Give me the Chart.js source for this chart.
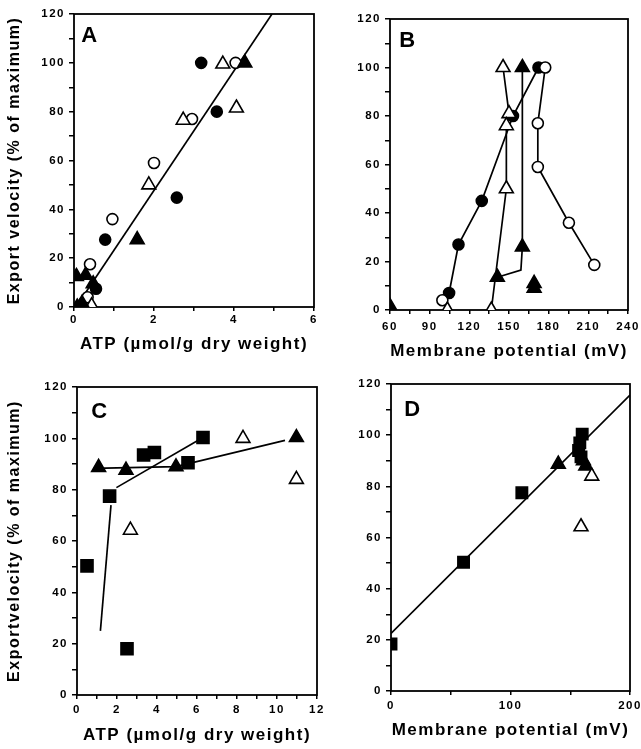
<!DOCTYPE html>
<html>
<head>
<meta charset="utf-8">
<script src="https://cdn.jsdelivr.net/npm/chart.js@4.4.0/dist/chart.umd.min.js"></script>
<style>
  body { margin: 0; background: #fff; }
  #wrap { position: relative; width: 641px; height: 749px; }
  #wrap canvas { position: absolute; left: 0; top: 0; }
</style>
</head>
<body>
<div id="wrap">
  <canvas id="chartA" width="641" height="749"></canvas>
  <canvas id="chartB" width="641" height="749"></canvas>
  <canvas id="chartC" width="641" height="749"></canvas>
  <canvas id="chartD" width="641" height="749"></canvas>
</div>
<script>
const FONT = "'Liberation Sans', Arial, sans-serif";

// ---- panel A : export velocity vs ATP ----
const atpA_filledCircles = [[0.55, 7.5], [0.78, 27.6], [2.57, 44.8], [3.18, 100], [3.57, 80]];
const atpA_openCircles = [[0.34, 4], [0.4, 17.5], [0.96, 36], [2.0, 59], [2.95, 77], [4.04, 100]];
const atpA_openTriangles = [[0.15, 0], [0.44, 0.5], [1.87, 50], [2.73, 76.5], [3.72, 99.5], [4.06, 81.5]];
const atpA_filledTriangles = [[0.06, 12.5], [0.29, 13], [0.2, 1.5], [0.48, 9.5], [0.08, 0], [1.58, 27.6], [4.27, 100]];
const atpA_fit = [[0.05, 0], [4.95, 120]];

// ---- panel B : export velocity vs membrane potential ----
const mpB_filledCircleTrace = [[104.7, 7], [111.8, 27], [129.4, 45], [153, 80], [172.3, 100]];
const mpB_openCircleTrace = [[177.4, 100], [171.8, 77], [171.8, 59], [195.3, 36], [214.5, 18.6]];
const mpB_openCircleLone = [[99.6, 4]];
const mpB_openTriTrace = [[145.5, 100], [150, 81], [148, 76], [148, 50], [136.6, 0]];
const mpB_openTriLone = [[103.4, 0]];
const mpB_filledTriTrace = [[141.2, 13.5], [159, 16.5], [160.1, 26], [160.1, 100]];
const mpB_filledTriLone = [[169, 11], [169, 9], [60, 1.5]];

// ---- panel C : export velocity vs ATP ----
const atpC_filledSquares = [[0.5, 50.3], [1.63, 77.5], [2.5, 18], [3.33, 93.5], [3.87, 94.5], [5.55, 90.5], [6.3, 100.3]];
const atpC_filledTriangles = [[1.08, 88.7], [2.45, 87.6], [4.95, 88.9], [10.97, 100.3]];
const atpC_openTriangles = [[2.67, 64.2], [8.3, 100], [10.97, 84]];
const atpC_fitSteep = [[1.17, 25], [1.7, 74]];
const atpC_fitSquares = [[1.97, 80.8], [6.3, 100.3]];
const atpC_fitTriangles = [[0.83, 88.3], [4.95, 89], [10.4, 99.2]];

// ---- panel D : export velocity vs membrane potential ----
const mpD_filledSquares = [[0, 18.4], [60.7, 50.3], [109.5, 77.5], [160, 100.4], [158, 97], [157, 94], [159, 91.5]];
const mpD_filledTriangles = [[140, 88.7], [161, 90], [163, 88]];
const mpD_openTriangles = [[168, 84], [159, 64.2]];
const mpD_fit = [[0, 22.5], [200, 115.7]];

// ---- ticks ----
const yTicks = [0, 10, 20, 30, 40, 50, 60, 70, 80, 90, 100, 110, 120];
const yLabels = [0, 20, 40, 60, 80, 100, 120];
const xTicksA = [0, 1, 2, 3, 4, 5, 6];
const xLabelsA = [0, 2, 4, 6];
const xTicksB = [60, 75, 90, 105, 120, 135, 150, 165, 180, 195, 210, 225, 240];
const xLabelsB = [60, 90, 120, 150, 180, 210, 240];
const xTicksC = [0, 1, 2, 3, 4, 5, 6, 7, 8, 9, 10, 11, 12];
const xLabelsC = [0, 2, 4, 6, 8, 10, 12];
const xTicksD = [0, 50, 100, 150, 200];
const xLabelsD = [0, 100, 200];

const titleVelocityTop = 'Export velocity (% of maximum)';
const titleVelocityBottom = 'Exportvelocity (% of maximum)';
const titleATP = 'ATP (\u00b5mol/g dry weight)';
const titleMP = 'Membrane potential (mV)';

const pts = arr => arr.map(([x, y]) => ({ x, y }));

function marks(data, shape, filled, radius) {
    return {
        data: pts(data),
        showLine: false,
        pointStyle: shape,
        pointRadius: radius,
        pointBackgroundColor: filled ? '#000' : '#fff',
        pointBorderColor: '#000',
        pointBorderWidth: 1.6
    };
}

function trace(data, shape, filled, radius) {
    const ds = marks(data, shape, filled, radius);
    ds.showLine = true;
    ds.borderColor = '#000';
    ds.borderWidth = 1.7;
    return ds;
}

function fit(data) {
    return { data: pts(data), showLine: true, pointRadius: 0, borderColor: '#000', borderWidth: 1.7 };
}

const panelFrame = {
    id: 'panelFrame',
    beforeDraw(chart) {
        chart.ctx.letterSpacing = '1.5px';
    },
    beforeDatasetsDraw(chart) {
        const { ctx, chartArea: a } = chart;
        ctx.save();
        ctx.strokeStyle = '#000';
        ctx.lineWidth = 1.8;
        ctx.strokeRect(a.left, a.top, a.right - a.left, a.bottom - a.top);
        ctx.restore();
    },
    afterDraw(chart, args, opts) {
        const { ctx, chartArea: a } = chart;
        ctx.save();
        ctx.font = 'bold 22px ' + FONT;
        ctx.fillStyle = '#000';
        ctx.textAlign = 'center';
        ctx.textBaseline = 'middle';
        ctx.fillText(opts.letter, a.left + opts.dx, a.top + opts.dy);
        ctx.restore();
    }
};

function axis(min, max, tickVals, labelVals, extra) {
    return Object.assign({
        type: 'linear',
        min: min,
        max: max,
        border: { display: false },
        grid: { drawOnChartArea: false, drawTicks: true, tickLength: 5, color: '#000', lineWidth: 1.5 },
        afterBuildTicks: s => { s.ticks = tickVals.map(v => ({ value: v })); },
        ticks: {
            autoSkip: false,
            maxRotation: 0,
            padding: 4,
            color: '#000',
            font: { family: FONT, size: 11.5, weight: 'bold' },
            callback: v => labelVals.includes(v) ? String(v) : ''
        }
    }, extra);
}

// box: chart area in page pixels, yTitleX / xTitleY: title centres
function panel(id, box, xr, datasets) {
    const yLH = 16 * 1.2, xLH = 17 * 1.2;
    const left0 = box.yTitle ? box.yTitleX - yLH / 2 : box.l - 50;
    const scaleBottom = box.xTitleY + xLH / 2;
    const W = box.l - left0;
    const H = scaleBottom - box.b;

    const xAxis = axis(xr.min, xr.max, xr.ticks, xr.labels, {
        position: 'bottom',
        title: { display: true, text: box.xTitle, color: '#000', padding: 0, font: { family: FONT, size: 17, weight: 'bold' } },
        afterFit: s => { s.height = H; s.paddingLeft = 0; s.paddingRight = 0; }
    });
    xAxis.grid.tickLength = 4;
    xAxis.ticks.padding = box.xPad;

    const yAxis = axis(0, 120, yTicks, yLabels, {
        position: 'left',
        title: { display: !!box.yTitle, text: box.yTitle || '', color: '#000', padding: 0, font: { family: FONT, size: 16, weight: 'bold' } },
        afterFit: s => { s.width = W; s.paddingTop = 0; s.paddingBottom = 0; }
    });

    return new Chart(document.getElementById(id), {
        type: 'scatter',
        data: { datasets: datasets },
        options: {
            responsive: false,
            animation: false,
            events: [],
            layout: { padding: { left: left0, top: box.t, right: 641 - box.r, bottom: 749 - scaleBottom } },
            plugins: {
                legend: { display: false },
                tooltip: { enabled: false },
                panelFrame: { letter: box.letter, dx: box.dx, dy: box.dy }
            },
            scales: { x: xAxis, y: yAxis }
        },
        plugins: [panelFrame]
    });
}

panel('chartA',
    { l: 74, t: 14, r: 314, b: 307, yTitle: titleVelocityTop, yTitleX: 15, xTitle: titleATP, xTitleY: 344, xPad: 2, letter: 'A', dx: 16, dy: 22 },
    { min: 0, max: 6, ticks: xTicksA, labels: xLabelsA },
    [
        marks(atpA_filledTriangles, 'triangle', true, 8),
        marks(atpA_openTriangles, 'triangle', false, 8),
        marks(atpA_filledCircles, 'circle', true, 5.5),
        marks(atpA_openCircles, 'circle', false, 5.5),
        fit(atpA_fit)
    ]);

panel('chartB',
    { l: 390, t: 19, r: 628, b: 310, xTitle: titleMP, xTitleY: 351, xPad: 6, letter: 'B', dx: 18, dy: 22 },
    { min: 60, max: 240, ticks: xTicksB, labels: xLabelsB },
    [
        marks(mpB_filledTriLone, 'triangle', true, 8),
        marks(mpB_openTriLone, 'triangle', false, 8),
        marks(mpB_openCircleLone, 'circle', false, 5.5),
        Object.assign(trace(mpB_filledTriTrace, 'triangle', true, 8), { pointRadius: [8, 0, 8, 8] }),
        trace(mpB_openTriTrace, 'triangle', false, 8),
        trace(mpB_openCircleTrace, 'circle', false, 5.5),
        trace(mpB_filledCircleTrace, 'circle', true, 5.5)
    ]);

panel('chartC',
    { l: 77, t: 387, r: 317, b: 695, yTitle: titleVelocityBottom, yTitleX: 15, xTitle: titleATP, xTitleY: 735, xPad: 4, letter: 'C', dx: 23, dy: 25 },
    { min: 0, max: 12, ticks: xTicksC, labels: xLabelsC },
    [
        marks(atpC_filledTriangles, 'triangle', true, 8),
        marks(atpC_openTriangles, 'triangle', false, 8),
        marks(atpC_filledSquares, 'rect', true, 8.5),
        fit(atpC_fitSteep),
        fit(atpC_fitSquares),
        fit(atpC_fitTriangles)
    ]);

panel('chartD',
    { l: 391, t: 384, r: 630, b: 691, xTitle: titleMP, xTitleY: 730, xPad: 4, letter: 'D', dx: 22, dy: 26 },
    { min: 0, max: 200, ticks: xTicksD, labels: xLabelsD },
    [
        marks(mpD_openTriangles, 'triangle', false, 8),
        marks(mpD_filledTriangles, 'triangle', true, 8),
        marks(mpD_filledSquares, 'rect', true, 8),
        fit(mpD_fit)
    ]);
</script>
</body>
</html>
